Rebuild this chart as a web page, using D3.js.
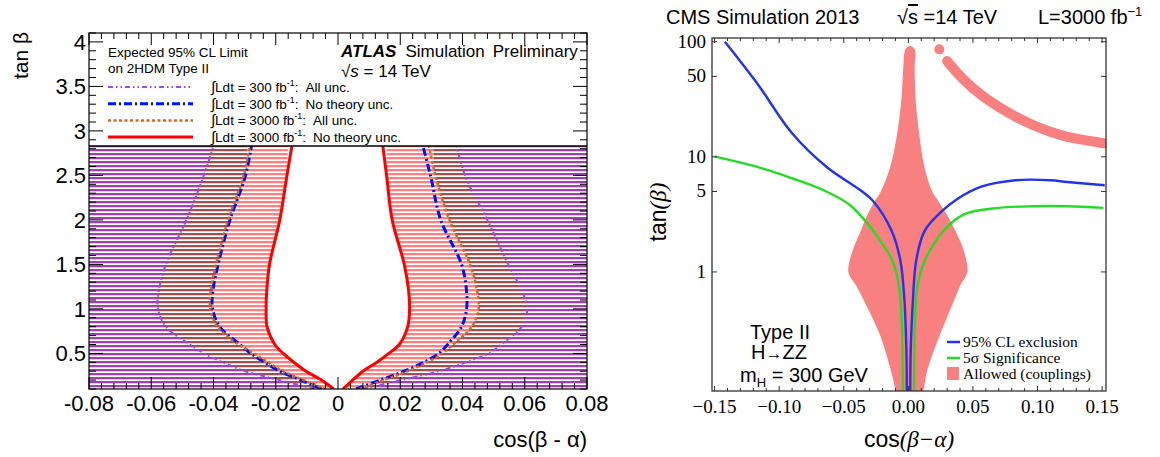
<!DOCTYPE html>
<html><head><meta charset="utf-8">
<script src="https://cdn.jsdelivr.net/npm/d3@7/dist/d3.min.js"></script>
<style>body{margin:0;background:#fff} svg{display:block}</style>
</head><body><div id="chart"></div>
<script>
// ---------- left panel (ATLAS): cos(b-a) boundaries vs tan b ----------
var tanb      = [0.1, 0.2, 0.3, 0.4, 0.5, 0.6, 0.8, 1.0, 1.2, 1.5, 2.0, 2.5, 3.0];
var red3000L  = [-0.0014,-0.0053,-0.0103,-0.0142,-0.0176,-0.0203,-0.0228,-0.0231,-0.0229,-0.0220,-0.0187,-0.0164,-0.0140];
var red3000R  = [0.0016, 0.0047, 0.0080, 0.0125, 0.0163, 0.0197, 0.0224, 0.0230, 0.0227, 0.0213, 0.0174, 0.0156, 0.0138];
var org3000L  = [-0.0040,-0.0110,-0.0176,-0.0225,-0.0270,-0.0320,-0.0387,-0.0410,-0.0409,-0.0392,-0.0353,-0.0303,-0.0275];
var org3000R  = [0.0069, 0.0147, 0.0224, 0.0285, 0.0336, 0.0369, 0.0430, 0.0452, 0.0447, 0.0424, 0.0358, 0.0313, 0.0283];
var blu300L   = [-0.0053,-0.0120,-0.0187,-0.0235,-0.0280,-0.0315,-0.0380,-0.0403,-0.0402,-0.0385,-0.0347,-0.0297,-0.0270];
var blu300R   = [0.0058, 0.0136, 0.0213, 0.0275, 0.0324, 0.0352, 0.0397, 0.0413, 0.0413, 0.0397, 0.0330, 0.0297, 0.0260];
var pur300L   = [-0.0076,-0.0187,-0.0298,-0.0370,-0.0430,-0.0476,-0.0553,-0.0578,-0.0576,-0.0553,-0.0487,-0.0431,-0.0385];
var pur300R   = [0.0080, 0.0202, 0.0324, 0.0410, 0.0486, 0.0524, 0.0590, 0.0608, 0.0591, 0.0547, 0.0480, 0.0408, 0.0370];
var leftXTicks = [-0.08,-0.06,-0.04,-0.02,0,0.02,0.04,0.06,0.08];
var leftYTicks = [0.5,1,1.5,2,2.5,3,3.5,4];

// ---------- right panel (CMS) ----------
var blueLx  = [-0.142,-0.117,-0.090,-0.0635,-0.0368,-0.0275,-0.0128,-0.0061,-0.0030,-0.0015,-0.0012];
var blueLy  = [100, 43.4, 16, 8.2, 5.1, 4.15, 2.26, 1.24, 0.556, 0.2, 0.093];
var blueRx  = [0.0015, 0.0018, 0.0035, 0.0060, 0.0125, 0.026, 0.0365, 0.0565, 0.083, 0.110, 0.123, 0.152];
var blueRy  = [0.093, 0.2, 0.556, 1.24, 2.26, 3.37, 4.2, 5.5, 6.26, 6.26, 6.05, 5.67];
var greenLx = [-0.150,-0.117,-0.090,-0.0635,-0.045,-0.030,-0.0208,-0.0130,-0.0080,-0.0055,-0.0042];
var greenLy = [10.1, 8.17, 6.5, 5.0, 3.8, 2.5, 1.8, 1.3, 0.85, 0.45, 0.093];
var greenRx = [0.0045, 0.0052, 0.0072, 0.0125, 0.027, 0.043, 0.070, 0.0965, 0.123, 0.151];
var greenRy = [0.093, 0.4, 0.776, 1.24, 2.26, 3.16, 3.6, 3.72, 3.72, 3.6];
var blobTb  = [0.095, 0.146, 0.285, 0.556, 0.776, 1.0, 1.51, 2.11, 2.95, 4.12, 4.8, 8.2, 15.9, 31, 60.6, 84.6, 89.3];
var blobL   = [-0.0088,-0.0128,-0.0208,-0.0328,-0.0395,-0.0453,-0.0421,-0.0368,-0.0315,-0.0248,-0.0208,-0.0128,-0.0075,-0.0043,-0.0027,-0.0013,0.0013];
var blobR   = [0.0107, 0.0139, 0.0232, 0.0339, 0.0392, 0.0445, 0.0419, 0.0365, 0.0299, 0.0219, 0.0179, 0.0112, 0.0072, 0.0045, 0.0037, 0.0040, 0.0013];
var bandX   = [0.030, 0.0325, 0.0432, 0.0565, 0.0699, 0.0832, 0.0965, 0.1099, 0.1232, 0.1499, 0.156];
var bandTb  = [68, 62.7, 46.4, 34.4, 27.2, 22.3, 18.9, 16.5, 14.9, 13.2, 12.9];
var lonePt  = [0.024, 85.8];
var rightXTicks = [-0.15,-0.10,-0.05,0,0.05,0.10,0.15];
var rightYTicks = [1,5,10,50,100];

var W = 1160, H = 457;
var svg = d3.select("#chart").append("svg").attr("width", W).attr("height", H);
var defs = svg.append("defs");

function hatch(id, color){
    var p = defs.append("pattern").attr("id", id).attr("patternUnits","userSpaceOnUse")
        .attr("width", 8).attr("height", 4);
    p.append("rect").attr("width", 8).attr("height", 4).attr("fill", "#fff");
    p.append("rect").attr("y", 1).attr("width", 8).attr("height", 2.3).attr("fill", color);
}
hatch("hPur", "#9b42b2");
hatch("hBrn", "#9b5252");
hatch("hPnk", "#ff7f7f");

// ================= LEFT PANEL =================
var L = {x0: 89, x1: 587, y0: 33, y1: 389, legBottom: 146};
var xL = d3.scaleLinear().domain([-0.08, 0.08]).range([L.x0, L.x1]);
var yL = d3.scaleLinear().domain([0.1, 4.1]).range([L.y1, L.y0]);

defs.append("clipPath").attr("id","clipL").append("rect")
    .attr("x", L.x0).attr("y", L.legBottom).attr("width", L.x1-L.x0).attr("height", L.y1-L.legBottom);

var gL = svg.append("g").attr("clip-path","url(#clipL)");

function band(lo, hi){
    var pts = [];
    tanb.forEach(function(t,i){ pts.push([xL(lo[i]), yL(t)]); });
    for (var i = tanb.length-1; i >= 0; i--) pts.push([xL(hi[i]), yL(tanb[i])]);
    return d3.line().curve(d3.curveCatmullRomClosed)(pts);
}
gL.append("rect").attr("x", L.x0).attr("y", L.y0).attr("width", L.x1-L.x0).attr("height", L.y1-L.y0)
    .attr("fill","url(#hPur)");
gL.append("path").attr("d", band(pur300L, pur300R)).attr("fill","url(#hBrn)");
gL.append("path").attr("d", band(blu300L, org3000R)).attr("fill","url(#hPnk)");
gL.append("path").attr("d", band(red3000L, red3000R)).attr("fill","#fff");

function curveL(vals){
    return d3.line().curve(d3.curveCatmullRom)
        .x(function(d){ return xL(d); }).y(function(d,i){ return yL(tanb[i]); })(vals);
}
var styles = {
    pur: {c:"#a046f5", w:2, dash:"5,3,1.5,3,1.5,3"},
    blu: {c:"#0010ff", w:3, dash:"8,3,2,3"},
    org: {c:"#d2691e", w:2.5, dash:"3,2.5"},
    red: {c:"#ff0000", w:3, dash:null}
};
[[pur300L,"pur"],[pur300R,"pur"],[blu300L,"blu"],[blu300R,"blu"],[org3000L,"org"],[org3000R,"org"],[red3000L,"red"],[red3000R,"red"]]
.forEach(function(p){
    var s = styles[p[1]];
    gL.append("path").attr("d", curveL(p[0])).attr("fill","none")
        .attr("stroke", s.c).attr("stroke-width", s.w).attr("stroke-dasharray", s.dash);
});

// legend box
svg.append("rect").attr("x", L.x0).attr("y", L.y0).attr("width", L.x1-L.x0).attr("height", L.legBottom-L.y0)
    .attr("fill","#fff");
svg.append("line").attr("x1", L.x0).attr("x2", L.x1).attr("y1", L.legBottom).attr("y2", L.legBottom)
    .attr("stroke","#000").attr("stroke-width",1.5);

// frame + ticks
var tk = svg.append("g").attr("stroke","#000").attr("stroke-width",1);
d3.range(-0.08, 0.0801, 0.004).forEach(function(v){
    var major = Math.abs(Math.round(v/0.02)*0.02 - v) < 1e-6;
    var len = major ? 12 : 6;
    tk.append("line").attr("x1", xL(v)).attr("x2", xL(v)).attr("y1", L.y1).attr("y2", L.y1-len);
    tk.append("line").attr("x1", xL(v)).attr("x2", xL(v)).attr("y1", L.y0).attr("y2", L.y0+len);
});
d3.range(0.1, 4.101, 0.1).forEach(function(v){
    var major = Math.abs(Math.round(v/0.5)*0.5 - v) < 1e-6;
    var len = major ? 14 : 7;
    tk.append("line").attr("x1", L.x0).attr("x2", L.x0+len).attr("y1", yL(v)).attr("y2", yL(v));
    tk.append("line").attr("x1", L.x1).attr("x2", L.x1-len).attr("y1", yL(v)).attr("y2", yL(v));
});
svg.append("rect").attr("x", L.x0).attr("y", L.y0).attr("width", L.x1-L.x0).attr("height", L.y1-L.y0)
    .attr("fill","none").attr("stroke","#000").attr("stroke-width",1.2);

var sans = "'Liberation Sans', Arial, sans-serif";
var serif = "'Liberation Serif', 'Times New Roman', serif";

svg.append("g").selectAll("text").data(leftYTicks).enter().append("text")
    .attr("x", L.x0-3).attr("y", function(d){ return yL(d)+8; })
    .attr("text-anchor","end").style("font-family", sans).style("font-size","22px")
    .text(function(d){ return d; });
svg.append("g").selectAll("text").data(leftXTicks).enter().append("text")
    .attr("x", function(d){ return xL(d); }).attr("y", 411)
    .attr("text-anchor","middle").style("font-family", sans).style("font-size","22px")
    .text(function(d){ return d === 0 ? "0" : d3.format(".2f")(d).replace("−","-"); });
svg.append("text").attr("x", L.x1).attr("y", 447).attr("text-anchor","end")
    .style("font-family", sans).style("font-size","22px").text("cos(β - α)");
svg.append("text").attr("transform","translate(28,32) rotate(-90)").attr("text-anchor","end")
    .style("font-family", sans).style("font-size","21px").text("tan β");

// legend texts
var lg = svg.append("g").style("font-family", sans).style("font-size","13.5px");
lg.append("text").attr("x",108).attr("y",57).text("Expected 95% CL Limit");
lg.append("text").attr("x",108).attr("y",73).text("on 2HDM Type II");
var legRows = [["pur","300","All unc."],["blu","300","No theory unc."],["org","3000","All unc."],["red","3000","No theory unc."]];
legRows.forEach(function(r,i){
    var yy = 87 + i*16.7, s = styles[r[0]];
    lg.append("line").attr("x1",108).attr("x2",193).attr("y1",yy).attr("y2",yy)
        .attr("stroke", s.c).attr("stroke-width", s.w).attr("stroke-dasharray", s.dash);
    var t = lg.append("text").attr("x",211).attr("y",yy+5);
    t.append("tspan").style("font-size","15px").text("∫");
    t.append("tspan").text("Ldt = " + r[1] + " fb");
    t.append("tspan").style("font-size","9px").attr("dy","-6").text("-1");
    t.append("tspan").attr("dy","6").text(":");
    t.append("tspan").attr("dx","7").text(r[2]);
});
var at = svg.append("text").attr("x",341).attr("y",57).style("font-family", sans).style("font-size","17px");
at.append("tspan").style("font-weight","bold").style("font-style","italic").text("ATLAS");
at.append("tspan").attr("dx",9).text("Simulation");
at.append("tspan").attr("dx",8).text("Preliminary");
svg.append("text").attr("x",341).attr("y",77).style("font-family", sans).style("font-size","17px")
    .html("√<tspan font-style='italic'>s</tspan> = 14 TeV");

// ================= RIGHT PANEL =================
var R = {x0: 712, x1: 1106, y0: 38, y1: 391};
var xR = d3.scaleLinear().domain([-0.152, 0.153]).range([R.x0, R.x1]);
var yR = d3.scaleLog().domain([0.0924, 107.7]).range([R.y1, R.y0]);

defs.append("clipPath").attr("id","clipR").append("rect")
    .attr("x", R.x0).attr("y", R.y0).attr("width", R.x1-R.x0).attr("height", R.y1-R.y0);
var gR = svg.append("g").attr("clip-path","url(#clipR)");
var pink = "#f88080";

var blobArea = d3.area().curve(d3.curveCatmullRom)
    .y(function(d){ return yR(d); })
    .x0(function(d,i){ return xR(blobL[i]); })
    .x1(function(d,i){ return xR(blobR[i]); });
gR.append("path").attr("d", blobArea(blobTb)).attr("fill", pink)
    .attr("stroke", pink).attr("stroke-width", 3).attr("stroke-linejoin","round");

gR.append("path").attr("d", d3.line().curve(d3.curveCatmullRom)
        .x(function(d){ return xR(d); }).y(function(d,i){ return yR(bandTb[i]); })(bandX))
    .attr("fill","none").attr("stroke", pink).attr("stroke-width", 10).attr("stroke-linecap","round");
gR.append("circle").attr("cx", xR(lonePt[0])).attr("cy", yR(lonePt[1])).attr("r", 5).attr("fill", pink);

function curveR(xs, ys){
    return d3.line().curve(d3.curveCatmullRom)
        .x(function(d){ return xR(d); }).y(function(d,i){ return yR(ys[i]); })(xs);
}
[[greenLx,greenLy,"#22dd22"],[greenRx,greenRy,"#22dd22"],[blueLx,blueLy,"#2233ee"],[blueRx,blueRy,"#2233ee"]]
.forEach(function(c){
    gR.append("path").attr("d", curveR(c[0], c[1])).attr("fill","none")
        .attr("stroke", c[2]).attr("stroke-width", 2.4);
});

// ticks
var tr = svg.append("g").attr("stroke","#333").attr("stroke-width",1);
d3.range(-0.15, 0.1501, 0.01).forEach(function(v){
    var major = Math.abs(Math.round(v/0.05)*0.05 - v) < 1e-6;
    var len = major ? 5 : 3;
    tr.append("line").attr("x1", xR(v)).attr("x2", xR(v)).attr("y1", R.y1).attr("y2", R.y1-len);
    tr.append("line").attr("x1", xR(v)).attr("x2", xR(v)).attr("y1", R.y0).attr("y2", R.y0+len);
});
rightYTicks.forEach(function(v){
    tr.append("line").attr("x1", R.x0).attr("x2", R.x0+5).attr("y1", yR(v)).attr("y2", yR(v));
    tr.append("line").attr("x1", R.x1).attr("x2", R.x1-5).attr("y1", yR(v)).attr("y2", yR(v));
});
svg.append("rect").attr("x", R.x0).attr("y", R.y0).attr("width", R.x1-R.x0).attr("height", R.y1-R.y0)
    .attr("fill","none").attr("stroke","#222").attr("stroke-width",1.2);

svg.append("g").selectAll("text").data(rightYTicks).enter().append("text")
    .attr("x", R.x0-6).attr("y", function(d){ return yR(d)+6; })
    .attr("text-anchor","end").style("font-family", serif).style("font-size","19px")
    .text(function(d){ return d; });
svg.append("g").selectAll("text").data(rightXTicks).enter().append("text")
    .attr("x", function(d){ return xR(d); }).attr("y", 413)
    .attr("text-anchor","middle").style("font-family", serif).style("font-size","19px")
    .text(function(d){ return d3.format(".2f")(d); });

var xt = svg.append("text").attr("x", 909).attr("y", 447).attr("text-anchor","middle").style("font-size","23px");
xt.append("tspan").style("font-family", sans).text("cos");
xt.append("tspan").style("font-family", serif).style("font-style","italic").text("(β−α)");
var yt = svg.append("text").attr("transform","translate(666,212) rotate(-90)").attr("text-anchor","middle")
    .style("font-size","23px");
yt.append("tspan").style("font-family", sans).text("tan");
yt.append("tspan").style("font-family", serif).style("font-style","italic").text("(β)");

var tt = svg.append("g").style("font-family", sans).style("font-size","20px");
tt.append("text").attr("x",666).attr("y",24).text("CMS Simulation 2013");
tt.append("text").attr("x",897).attr("y",24)
    .html("√<tspan style='text-decoration:overline'>s</tspan> =14 TeV");
tt.append("text").attr("x",1038).attr("y",24)
    .html("L=3000 fb<tspan font-size='13px' dy='-8'>−1</tspan>");

var an = svg.append("g").style("font-family", sans).style("font-size","20px").attr("text-anchor","middle");
an.append("text").attr("x",780).attr("y",339).text("Type II");
an.append("text").attr("x",779).attr("y",359).html("H<tspan font-size='17px'>→</tspan>ZZ");
an.append("text").attr("x",804).attr("y",382).html("m<tspan font-size='13px' dy='5'>H</tspan><tspan dy='-5'> = 300 GeV</tspan>");

var rl = svg.append("g").style("font-family", serif).style("font-size","15.5px");
[["#2233ee","95% CL exclusion"],["#22dd22","5σ Significance"]].forEach(function(r,i){
    var yy = 342 + i*16;
    rl.append("line").attr("x1",947).attr("x2",960).attr("y1",yy).attr("y2",yy).attr("stroke",r[0]).attr("stroke-width",2.5);
    rl.append("text").attr("x",963).attr("y",yy+5).text(r[1]);
});
rl.append("rect").attr("x",947).attr("y",367).attr("width",12).attr("height",13).attr("fill",pink);
rl.append("text").attr("x",963).attr("y",379).text("Allowed (couplings)");
</script>
</body></html>
